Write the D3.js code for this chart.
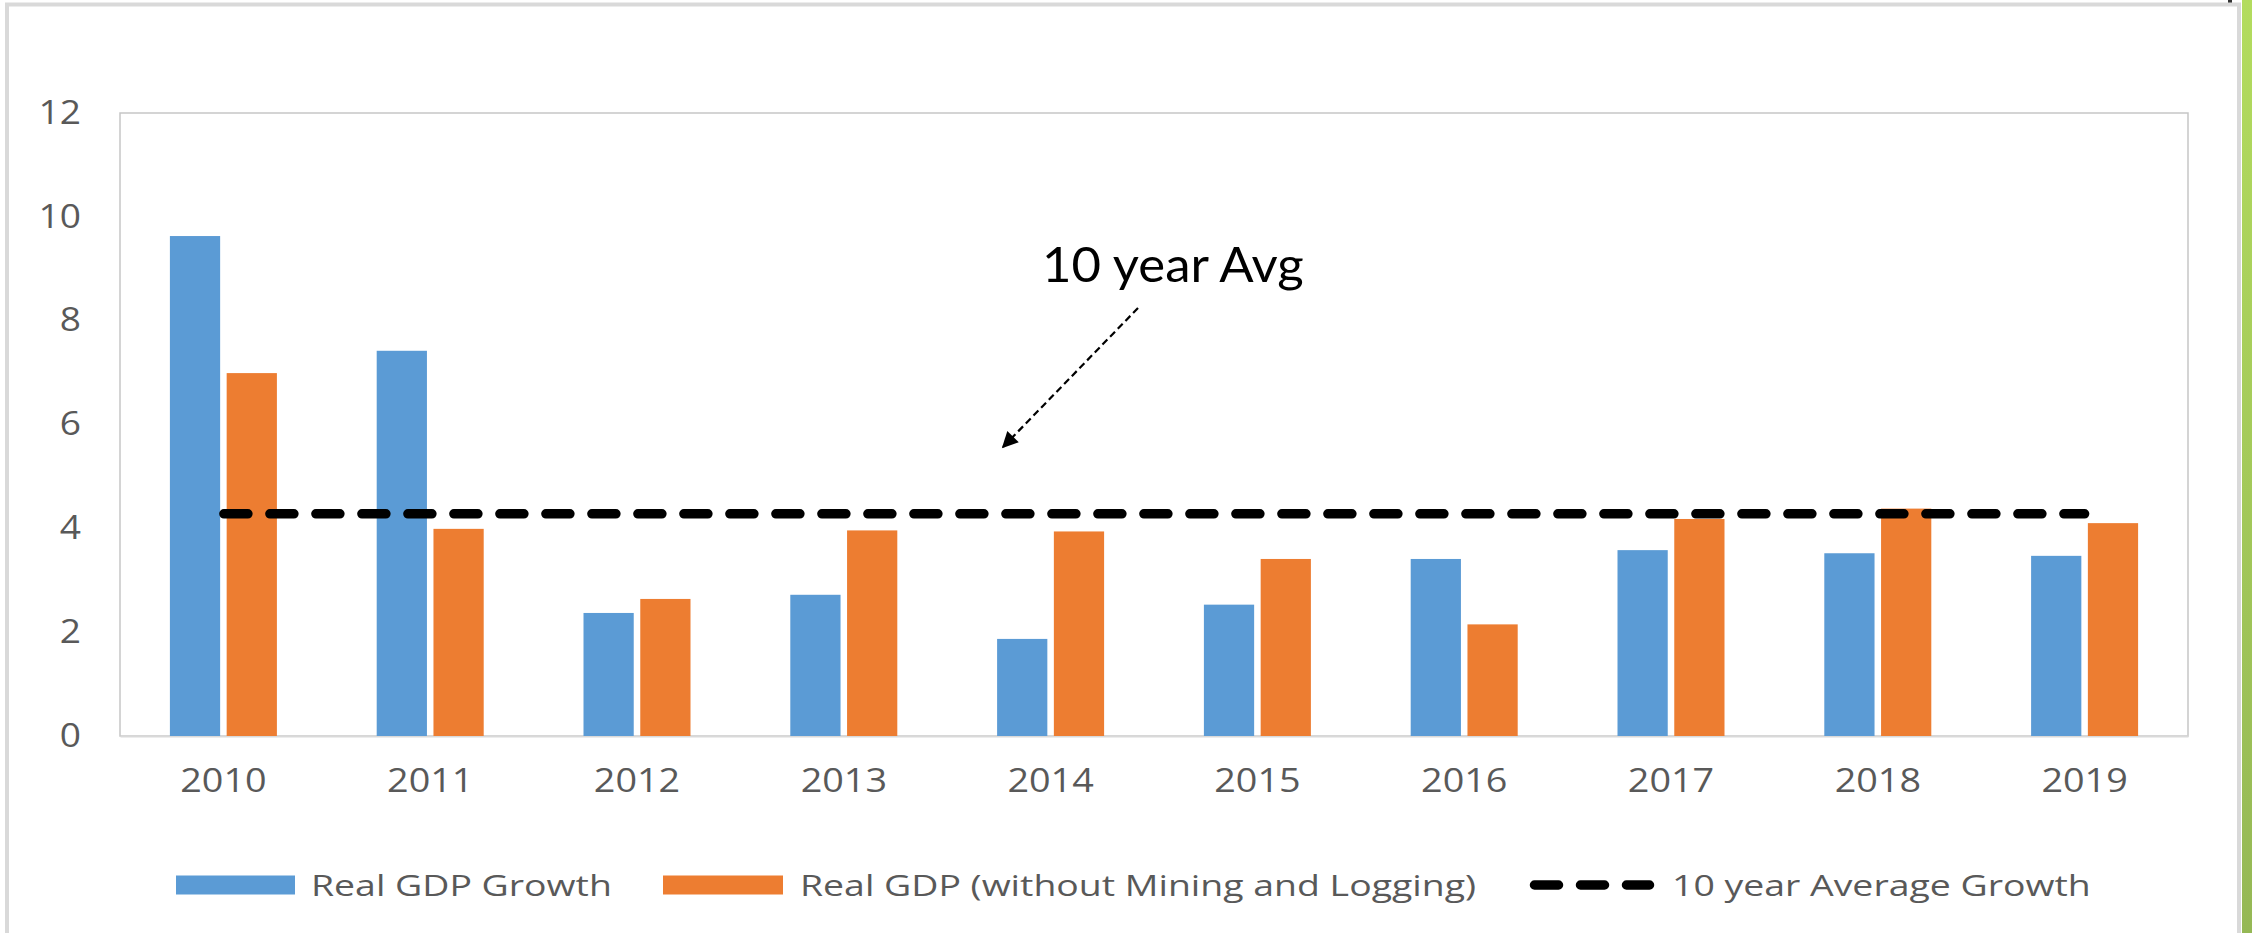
<!DOCTYPE html>
<html>
<head>
<meta charset="utf-8">
<script src="https://cdn.jsdelivr.net/npm/d3@7"></script>
<style>
  html, body { margin: 0; padding: 0; background: #ffffff; overflow: hidden; }
  svg { display: block; }
</style>
</head>
<body>
<svg id="chart" width="2252" height="933"></svg>
<script>
// ---- data ----
const years = ["2010","2011","2012","2013","2014","2015","2016","2017","2018","2019"];
const realGdpGrowth = [9.63, 7.42, 2.37, 2.72, 1.87, 2.53, 3.41, 3.58, 3.52, 3.47];
const realGdpNoMining = [6.99, 3.99, 2.64, 3.96, 3.94, 3.41, 2.15, 4.18, 4.38, 4.10];
const tenYearAverage = 4.28;
const yTicks = [0, 2, 4, 6, 8, 10, 12];
const seriesNames = ["Real GDP Growth", "Real GDP (without Mining and Logging)", "10 year Average Growth"];
const annotationText = "10 year Avg";

// ---- layout ----
const W = 2252, H = 933;
const plot = { left: 120, top: 113, right: 2188, bottom: 736 };
const colors = { blue: "#5b9bd5", orange: "#ed7d31", avg: "#000000", text: "#595959" };

const svg = d3.select("#chart");

// outer chart frame and right green strip
const defs = svg.append("defs");
const strip = defs.append("linearGradient")
  .attr("id", "greenGrad").attr("x1", 0).attr("y1", 0).attr("x2", 0).attr("y2", 1);
strip.append("stop").attr("offset", "0%").attr("stop-color", "#b3dc5e");
strip.append("stop").attr("offset", "100%").attr("stop-color", "#95b855");
svg.append("rect").attr("x", 2242).attr("y", 0).attr("width", 10).attr("height", H).attr("fill", "url(#greenGrad)");
svg.append("rect").attr("x", 2228).attr("y", 0).attr("width", 4).attr("height", 3).attr("fill", "#333");
svg.append("rect").attr("x", 7).attr("y", 4.5).attr("width", 2232).attr("height", H + 20)
  .attr("fill", "#ffffff").attr("stroke", "#d9d9d9").attr("stroke-width", 4);

// scales
const x = d3.scaleBand().domain(years).range([plot.left, plot.right]).padding(0);
const groupW = 107;
const x1 = d3.scaleBand().domain(["a", "b"]).range([0, groupW]).paddingInner(0.115);
const y = d3.scaleLinear().domain([0, 12]).range([plot.bottom, plot.top]);

// plot area border
svg.append("rect")
  .attr("x", plot.left).attr("y", plot.top)
  .attr("width", plot.right - plot.left).attr("height", plot.bottom - plot.top)
  .attr("fill", "none").attr("stroke", "#c6c6c6").attr("stroke-width", 1.5);

// y axis (labels only)
const yAxis = svg.append("g").attr("transform", `translate(${plot.left},0)`)
  .call(d3.axisLeft(y).tickValues(yTicks).tickSize(0).tickPadding(39));
yAxis.select(".domain").remove();
yAxis.selectAll("text")
  .attr("fill", colors.text).attr("font-family", "'Open Sans', sans-serif").attr("font-size", 32)
  .attr("transform", "scale(1.16,1)")
  .attr("x", -39 / 1.16);

// x axis
const xAxis = svg.append("g").attr("transform", `translate(0,${plot.bottom})`)
  .call(d3.axisBottom(x).tickSize(0).tickPadding(30));
xAxis.select(".domain").attr("stroke", "#d9d9d9").attr("stroke-width", 2);
xAxis.selectAll(".tick text")
  .attr("fill", colors.text).attr("font-family", "'Open Sans', sans-serif").attr("font-size", 32)
  .attr("dy", 0).attr("y", 56)
  .attr("transform", "scale(1.18,1)");
xAxis.selectAll(".tick").each(function() {
  // keep the label centred on its band while stretched
  const t = d3.select(this);
  const m = /translate\(([^,]+),/.exec(t.attr("transform"));
  t.select("text").attr("x", 0);
});

// bars
const groups = svg.append("g").selectAll("g.year").data(years).join("g")
  .attr("class", "year")
  .attr("transform", d => `translate(${x(d) + (x.bandwidth() - groupW) / 2},0)`);

groups.append("rect")
  .attr("x", x1("a")).attr("width", x1.bandwidth())
  .attr("y", (d, i) => y(realGdpGrowth[i]))
  .attr("height", (d, i) => y(0) - y(realGdpGrowth[i]))
  .attr("fill", colors.blue);

groups.append("rect")
  .attr("x", x1("b")).attr("width", x1.bandwidth())
  .attr("y", (d, i) => y(realGdpNoMining[i]))
  .attr("height", (d, i) => y(0) - y(realGdpNoMining[i]))
  .attr("fill", colors.orange);

// 10 year average dashed line (category centre to category centre)
const avgLine = d3.line().x(d => x(d) + x.bandwidth() / 2).y(() => y(tenYearAverage));
svg.append("path")
  .attr("d", avgLine([years[0], years[years.length - 1]]))
  .attr("fill", "none").attr("stroke", colors.avg).attr("stroke-width", 9.5)
  .attr("stroke-linecap", "round").attr("stroke-dasharray", "24,22")
  .attr("stroke-dashoffset", -0.5);

// annotation
svg.append("text")
  .attr("transform", "translate(1042,282) scale(1.06,1)")
  .attr("font-family", "Lato, sans-serif").attr("font-size", 48).attr("fill", "#000")
  .text(annotationText);

defs.append("marker").attr("id", "arrowHead")
  .attr("viewBox", "0 0 10 10").attr("refX", 9).attr("refY", 5)
  .attr("markerWidth", 18).attr("markerHeight", 16).attr("markerUnits", "userSpaceOnUse")
  .attr("orient", "auto")
  .append("path").attr("d", "M0,0 L10,5 L0,10 z").attr("fill", "#000");

svg.append("line")
  .attr("x1", 1138).attr("y1", 308).attr("x2", 1003).attr("y2", 447)
  .attr("stroke", "#000").attr("stroke-width", 2.2).attr("stroke-dasharray", "7,4")
  .attr("marker-end", "url(#arrowHead)");

// legend
const legend = svg.append("g");
const legendFont = { family: "'Open Sans', sans-serif", size: 29, sx: 1.29 };
const legendItems = [
  { name: seriesNames[0], type: "rect", color: colors.blue, sx: 176, sw: 119, tx: 311 },
  { name: seriesNames[1], type: "rect", color: colors.orange, sx: 663, sw: 120, tx: 800 },
  { name: seriesNames[2], type: "dash", color: colors.avg, sx: 1530, sw: 124, tx: 1672 }
];
const legendY = 885;
legendItems.forEach(it => {
  if (it.type === "rect") {
    legend.append("rect").attr("x", it.sx).attr("y", legendY - 9.5).attr("width", it.sw).attr("height", 19)
      .attr("fill", it.color);
  } else {
    legend.append("line").attr("x1", it.sx + 4.5).attr("x2", it.sx + it.sw - 4.5)
      .attr("y1", legendY).attr("y2", legendY)
      .attr("stroke", it.color).attr("stroke-width", 9.5).attr("stroke-linecap", "round")
      .attr("stroke-dasharray", "24,22");
  }
  legend.append("text")
    .attr("transform", `translate(${it.tx},${legendY + 11}) scale(${legendFont.sx},1)`)
    .attr("font-family", legendFont.family).attr("font-size", legendFont.size)
    .attr("fill", colors.text).text(it.name);
});
</script>
</body>
</html>
